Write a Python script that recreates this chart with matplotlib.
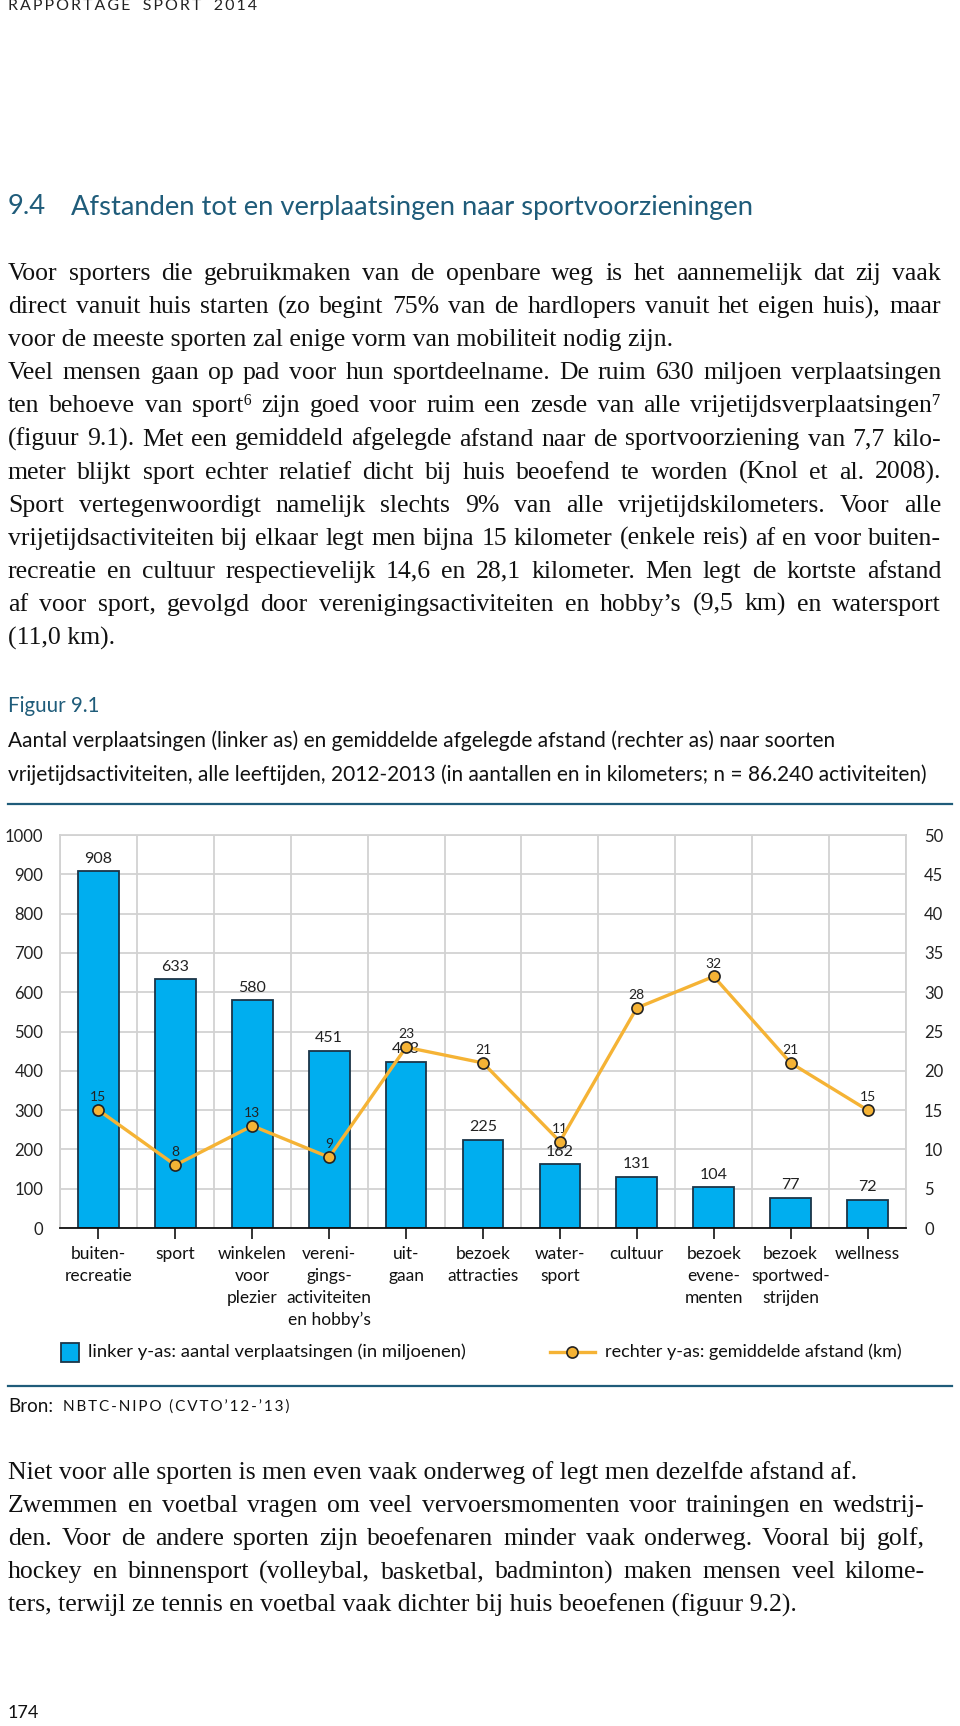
# encoding: utf-8

import numpy as np
from matplotlib import pyplot as plt

categories = ['buiten-\nrecreatie', 'sport', 'winkelen\nvoor\nplezier',
              'vereni-\ngings-\nactiviteiten\nen hobby’s', 'uit-\ngaan',
              'bezoek\nattracties', 'water-\nsport', 'cultuur',
              'bezoek\nevene-\nmenten', 'bezoek\nsportwed-\nstrijden', 'wellness']
trips = [908, 633, 580, 451, 423, 225, 162, 131, 104, 77, 72]  # miljoenen
distance = [15, 8, 13, 9, 23, 21, 11, 28, 32, 21, 15]  # km
left_ticks = [0, 100, 200, 300, 400, 500, 600, 700, 800, 900, 1000]
right_ticks = [0, 5, 10, 15, 20, 25, 30, 35, 40, 45, 50]

body_lines = [
    'Voor sporters die gebruikmaken van de openbare weg is het aannemelijk dat zij vaak',
    'direct vanuit huis starten (zo begint 75% van de hardlopers vanuit het eigen huis), maar',
    'voor de meeste sporten zal enige vorm van mobiliteit nodig zijn.',
    'Veel mensen gaan op pad voor hun sportdeelname. De ruim 630 miljoen verplaatsingen',
    'ten behoeve van sport⁶ zijn goed voor ruim een zesde van alle vrijetijdsverplaatsingen⁷',
    '(figuur 9.1). Met een gemiddeld afgelegde afstand naar de sportvoorziening van 7,7 kilo-',
    'meter blijkt sport echter relatief dicht bij huis beoefend te worden (Knol et al. 2008).',
    'Sport vertegenwoordigt namelijk slechts 9% van alle vrijetijdskilometers. Voor alle',
    'vrijetijdsactiviteiten bij elkaar legt men bijna 15 kilometer (enkele reis) af en voor buiten-',
    'recreatie en cultuur respectievelijk 14,6 en 28,1 kilometer. Men legt de kortste afstand',
    'af voor sport, gevolgd door verenigingsactiviteiten en hobby’s (9,5 km) en watersport',
    '(11,0 km).',
]
body_justified = [True, True, False, True, True, True, True, True, True, True, True, False]
caption_lines = [
    'Aantal verplaatsingen (linker as) en gemiddelde afgelegde afstand (rechter as) naar soorten',
    'vrijetijdsactiviteiten, alle leeftijden, 2012-2013 (in aantallen en in kilometers; n = 86.240 activiteiten)',
]
end_lines = [
    'Niet voor alle sporten is men even vaak onderweg of legt men dezelfde afstand af.',
    'Zwemmen en voetbal vragen om veel vervoersmomenten voor trainingen en wedstrij-',
    'den. Voor de andere sporten zijn beoefenaren minder vaak onderweg. Vooral bij golf,',
    'hockey en binnensport (volleybal, basketbal, badminton) maken mensen veel kilome-',
    'ters, terwijl ze tennis en voetbal vaak dichter bij huis beoefenen (figuur 9.2).',
]
end_justified = [False, True, True, True, False]

W, H = 960, 1726
plt.rcParams['font.family'] = ['Lato', 'DejaVu Sans']
serif = ['Liberation Serif', 'DejaVu Serif']
teal = '#1f5c7a'
barblue = '#00aeef'
gold = '#f5b335'

fig = plt.figure(figsize=(W / 100, H / 100), dpi=100)
renderer = fig.canvas.get_renderer()


def put(x, y, s, va='center', **kw):
    # pixel coordinates, y from the top
    return fig.text(x / W, 1 - y / H, s, va=va, **kw)


def put_line(x0, x1, y, s, justify, **kw):
    # serif broodtekst op basislijn; woorden uitvullen tussen x0 en x1
    yb = y + 7
    if not justify:
        put(x0, yb, s, va='baseline', **kw)
        return
    words = s.split(' ')
    texts = [put(x0, yb, w, va='baseline', **kw) for w in words]
    widths = [t.get_window_extent(renderer).width for t in texts]
    gap = (x1 - x0 - sum(widths)) / (len(words) - 1)
    pos = x0
    for t, w in zip(texts, widths):
        t.set_x(pos / W)
        pos += w + gap


def rule(y, x0=8, x1=952):
    fig.add_artist(plt.Line2D([x0 / W, x1 / W], [1 - y / H, 1 - y / H],
                              color=teal, lw=1.6))


# koptekst
put(8, 6, '   '.join('\u2009'.join(w) for w in 'RAPPORTAGE SPORT 2014'.split()),
    fontsize=11.5, color='#222222')
put(8, 207, '9.4', fontsize=19.7, color=teal)
put(71, 207, 'Afstanden tot en verplaatsingen naar sportvoorzieningen', fontsize=19.7, color=teal)

for i, (s, j) in enumerate(zip(body_lines, body_justified)):
    put_line(8, 941, 273 + i * 33.1, s, j, fontsize=18.5, color='#111111', family=serif)

put(8, 706, 'Figuur 9.1', fontsize=14.8, color=teal)
for i, s in enumerate(caption_lines):
    put(8, 741 + i * 34, s, fontsize=15, color='#111111')

rule(804)

# grafiek
ax = fig.add_axes([60 / W, 1 - 1228 / H, 846 / W, 393 / H])
x = np.arange(len(categories))
ax.bar(x, trips, width=0.53, color=barblue, edgecolor='#1b3548', lw=1.3, zorder=3)
for xi, v in zip(x, trips):
    ax.annotate(str(v), (xi, v), xytext=(0, 4), textcoords='offset points',
                ha='center', va='bottom', fontsize=11.5, color='#222222', zorder=6)
ax.set_xlim(-0.5, len(categories) - 0.5)
ax.set_ylim(0, 1000)
ax.set_yticks(left_ticks)
ax.set_xticks(x)
ax.set_xticklabels(categories, fontsize=12.5, linespacing=1.45, color='#111111')
ax.set_xticks(np.arange(-0.5, len(categories), 1), minor=True)
ax.grid(axis='x', which='minor', color='#d2d2d2', lw=1.3, zorder=0)
ax.grid(axis='y', which='major', color='#d2d2d2', lw=1.3, zorder=0)
ax.tick_params(axis='x', which='major', length=8, width=1.2, color='#111111', pad=5)
ax.tick_params(axis='x', which='minor', length=0)
ax.tick_params(axis='y', length=0, pad=12, labelsize=12, labelcolor='#222222')
for side in ['left', 'top', 'right']:
    ax.spines[side].set_color('#d2d2d2')
    ax.spines[side].set_linewidth(1.3)
ax.spines['bottom'].set_color('#111111')
ax.spines['bottom'].set_linewidth(1.3)
ax.spines['bottom'].set_zorder(5)

ax2 = ax.twinx()
ax2.plot(x, distance, color=gold, lw=2.4, marker='o', markersize=8,
         markerfacecolor=gold, markeredgecolor='#222222', markeredgewidth=1.2, zorder=4)
for xi, v in zip(x, distance):
    ax2.annotate(str(v), (xi, v), xytext=(0, 5), textcoords='offset points',
                 ha='center', va='bottom', fontsize=10, color='#222222')
ax2.set_ylim(0, 50)
ax2.set_yticks(right_ticks)
ax2.tick_params(axis='y', length=0, pad=13, labelsize=12, labelcolor='#222222')
for s in ax2.spines.values():
    s.set_visible(False)

# legenda
fig.add_artist(plt.Rectangle((61 / W, 1 - 1362 / H), 18 / W, 19 / H,
                             facecolor=barblue, edgecolor='#1b3548', lw=1.3))
put(88, 1352, 'linker y-as: aantal verplaatsingen (in miljoenen)', fontsize=13.3, color='#111111')
fig.add_artist(plt.Line2D([550 / W, 595 / W], [1 - 1352 / H] * 2, color=gold, lw=2.4))
fig.add_artist(plt.Line2D([572 / W], [1 - 1352 / H], marker='o', markersize=8,
                          markerfacecolor=gold, markeredgecolor='#222222', markeredgewidth=1.2))
put(605, 1352, 'rechter y-as: gemiddelde afstand (km)', fontsize=13, color='#111111')

rule(1386)
put(8, 1406, 'Bron:', fontsize=13.5, color='#111111')
put(63, 1407, '\u2009'.join('NBTC-NIPO (CVTO’12-’13)'), fontsize=11, color='#111111')

for i, (s, j) in enumerate(zip(end_lines, end_justified)):
    put_line(8, 925, 1472 + i * 33.1, s, j, fontsize=18.5, color='#111111', family=serif)

put(8, 1713, '174', fontsize=13, color='#111111')

fig.savefig('out.png', dpi=100)
